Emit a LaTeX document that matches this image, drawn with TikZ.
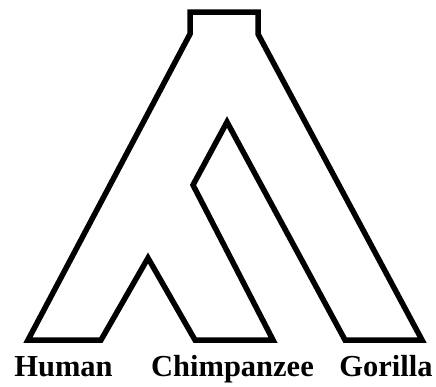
\documentclass[tikz,border=0pt]{standalone}
\usepackage{fontspec}
\setmainfont{Liberation Serif}
\begin{document}
\begin{tikzpicture}[x=1pt,y=-1pt,
  outline/.style={draw=black,line width=5.5pt,line join=miter},
  label/.style={anchor=base,inner sep=0pt,font=\fontsize{30.5}{32}\selectfont\bfseries}]
\useasboundingbox[fill=white] (0,0) rectangle (436,386);
\draw[outline] (190,12) -- (258,12) -- (258,34) -- (422,340) -- (345,340)
  -- (227,122) -- (193,185) -- (273,340) -- (195,340) -- (148,258)
  -- (101,340) -- (28,340) -- (190,34) -- cycle;
\node[label] (human) at (63.5,376) {Human};
\node[label] (chimp) at (232.5,376) {Chimpanzee};
\node[label] (gorilla) at (386,376) {Gorilla};
\end{tikzpicture}
\end{document}
